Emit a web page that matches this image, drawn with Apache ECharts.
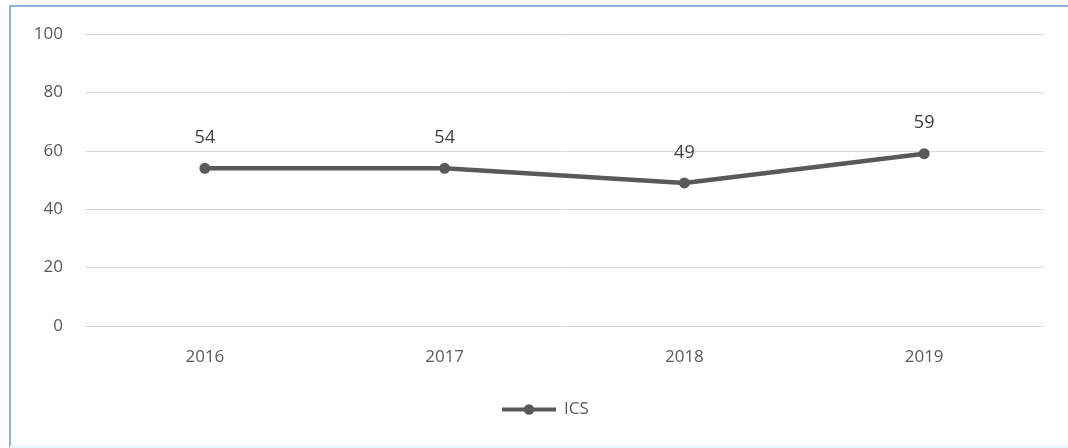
<!DOCTYPE html>
<html>
<head>
<meta charset="utf-8">
<script src="https://cdn.jsdelivr.net/npm/echarts@6/dist/echarts.min.js"></script>
<style>
  html, body { margin: 0; padding: 0; background: #ffffff; }
  #frame {
    position: absolute; left: 9px; top: 5px; width: 1059px; height: 443px;
    box-sizing: border-box;
    border-left: 2px solid #8fb4dc; border-top: 2px solid #8fb4dc;
    border-bottom: 3px solid #eafbfd;
  }
  #chart { position: absolute; left: 0; top: 0; width: 1068px; height: 448px; }
</style>
</head>
<body>
<div id="frame"></div>
<div id="chart"></div>
<script>
const years = ['2016', '2017', '2018', '2019'];
const icsValues = [54, 54, 49, 59];
const yTicks = { min: 0, max: 100, step: 20 };

const chart = echarts.init(document.getElementById('chart'), null, { renderer: 'canvas' });
chart.setOption({
  backgroundColor: 'transparent',
  animation: false,
  textStyle: { fontFamily: 'Open Sans' },
  grid: { left: 85, right: 24, top: 34, bottom: 122, containLabel: false },
  legend: {
    bottom: 25,
    left: 495,
    itemWidth: 54,
    itemHeight: 13,
    itemGap: 10,
    lineStyle: { width: 4 },
    textStyle: { color: '#595959', fontSize: 17, fontFamily: 'Open Sans', padding: [0, 0, 0, 3] },
    data: ['ICS']
  },
  xAxis: {
    type: 'category',
    data: years,
    boundaryGap: true,
    axisLine: { show: false },
    axisTick: { show: false },
    axisLabel: { color: '#595959', fontSize: 17, margin: 23 }
  },
  yAxis: {
    type: 'value',
    min: yTicks.min,
    max: yTicks.max,
    interval: yTicks.step,
    axisLine: { show: false },
    axisTick: { show: false },
    axisLabel: { color: '#595959', fontSize: 17, margin: 22 },
    splitLine: { lineStyle: { color: '#d9d9d9', width: 1 } }
  },
  series: [{
    name: 'ICS',
    type: 'line',
    data: icsValues,
    symbol: 'circle',
    symbolSize: 11,
    itemStyle: { color: '#595959' },
    lineStyle: { color: '#595959', width: 4.5 },
    label: {
      show: true,
      position: 'top',
      distance: 16,
      color: '#404040',
      fontSize: 18
    }
  }]
});
</script>
</body>
</html>
